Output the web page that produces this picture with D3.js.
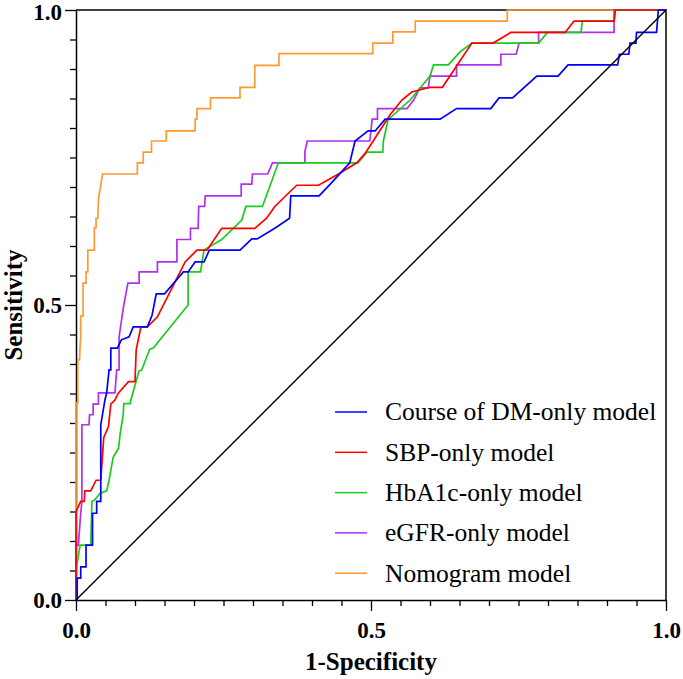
<!DOCTYPE html>
<html>
<head>
<meta charset="utf-8">
<script src="https://cdn.jsdelivr.net/npm/d3@7"></script>
<style>
  body { margin: 0; background: #fff; }
  svg { display: block; font-family: "Liberation Serif", "Times New Roman", serif; }
</style>
</head>
<body>
<div id="chart"></div>
<script>
// ROC points as [1-specificity, sensitivity]
const courseDM = [
  [0, 0], [0.002, 0], [0.002, 0.037], [0.008, 0.037], [0.008, 0.056], [0.017, 0.056],
  [0.017, 0.093], [0.028, 0.093], [0.028, 0.147], [0.035, 0.147], [0.035, 0.167],
  [0.042, 0.167], [0.042, 0.297], [0.049, 0.339], [0.052, 0.351], [0.056, 0.390],
  [0.059, 0.390], [0.059, 0.427], [0.070, 0.427], [0.077, 0.441], [0.090, 0.446],
  [0.097, 0.463], [0.121, 0.463], [0.129, 0.483], [0.136, 0.519], [0.150, 0.519],
  [0.182, 0.556], [0.190, 0.556], [0.202, 0.573], [0.217, 0.573], [0.226, 0.593],
  [0.278, 0.593], [0.298, 0.612], [0.307, 0.612], [0.337, 0.630], [0.362, 0.647],
  [0.364, 0.685], [0.412, 0.685], [0.431, 0.705], [0.464, 0.741], [0.473, 0.778],
  [0.495, 0.795], [0.507, 0.795], [0.524, 0.815], [0.617, 0.815], [0.645, 0.833],
  [0.703, 0.833], [0.717, 0.851], [0.740, 0.851], [0.781, 0.888], [0.817, 0.888],
  [0.834, 0.907], [0.918, 0.907], [0.921, 0.925], [0.937, 0.925], [0.939, 0.944],
  [0.949, 0.944], [0.950, 0.962], [0.984, 0.962], [0.987, 1], [1, 1]
];
const sbp = [
  [0, 0], [0, 0.150], [0.008, 0.167], [0.014, 0.167], [0.015, 0.185], [0.025, 0.185],
  [0.034, 0.203], [0.042, 0.203], [0.047, 0.275], [0.055, 0.294], [0.059, 0.332],
  [0.066, 0.339], [0.072, 0.351], [0.089, 0.370], [0.100, 0.370], [0.102, 0.424],
  [0.110, 0.463], [0.121, 0.463], [0.138, 0.480], [0.171, 0.545], [0.185, 0.573],
  [0.205, 0.593], [0.222, 0.593], [0.247, 0.630], [0.303, 0.630], [0.323, 0.647],
  [0.337, 0.667], [0.374, 0.703], [0.411, 0.703], [0.445, 0.722], [0.476, 0.741],
  [0.490, 0.757], [0.507, 0.783], [0.532, 0.822], [0.552, 0.847], [0.569, 0.861],
  [0.600, 0.869], [0.621, 0.869], [0.671, 0.944], [0.707, 0.944], [0.737, 0.962],
  [0.829, 0.962], [0.844, 0.981], [0.912, 0.981], [0.914, 1], [1, 1]
];
const hba1c = [
  [0, 0], [0.001, 0.056], [0.007, 0.093], [0.025, 0.093], [0.027, 0.167], [0.031, 0.169],
  [0.041, 0.181], [0.052, 0.185], [0.056, 0.203], [0.063, 0.242], [0.072, 0.257],
  [0.075, 0.283], [0.080, 0.314], [0.081, 0.333], [0.092, 0.333], [0.093, 0.339],
  [0.107, 0.389], [0.111, 0.389], [0.125, 0.425], [0.131, 0.427], [0.190, 0.500],
  [0.190, 0.556], [0.211, 0.556], [0.217, 0.593], [0.247, 0.611], [0.281, 0.644],
  [0.288, 0.667], [0.316, 0.667], [0.343, 0.741], [0.478, 0.741], [0.493, 0.759],
  [0.520, 0.759], [0.521, 0.778], [0.529, 0.814], [0.566, 0.847], [0.600, 0.888],
  [0.606, 0.907], [0.631, 0.907], [0.651, 0.929], [0.671, 0.944], [0.784, 0.944],
  [0.799, 0.962], [0.856, 0.962], [0.858, 0.981], [0.912, 0.981], [0.914, 1], [1, 1]
];
const egfr = [
  [0, 0], [0, 0.093], [0.004, 0.093], [0.008, 0.147], [0.010, 0.167], [0.010, 0.297],
  [0.022, 0.297], [0.023, 0.314], [0.029, 0.314], [0.029, 0.332], [0.038, 0.332],
  [0.038, 0.351], [0.066, 0.351], [0.069, 0.390], [0.073, 0.390], [0.073, 0.446],
  [0.081, 0.500], [0.088, 0.537], [0.107, 0.537], [0.107, 0.556], [0.138, 0.556],
  [0.138, 0.573], [0.171, 0.573], [0.171, 0.611], [0.194, 0.611], [0.194, 0.630],
  [0.207, 0.630], [0.208, 0.667], [0.218, 0.667], [0.219, 0.685], [0.280, 0.685],
  [0.280, 0.705], [0.298, 0.705], [0.299, 0.722], [0.325, 0.722], [0.333, 0.741],
  [0.388, 0.741], [0.388, 0.760], [0.392, 0.778], [0.498, 0.778], [0.502, 0.815],
  [0.511, 0.815], [0.511, 0.833], [0.561, 0.833], [0.572, 0.847], [0.583, 0.868],
  [0.597, 0.868], [0.600, 0.888], [0.645, 0.888], [0.645, 0.907], [0.720, 0.907],
  [0.720, 0.925], [0.746, 0.925], [0.751, 0.944], [0.784, 0.944], [0.784, 0.962],
  [0.912, 0.962], [0.912, 1], [1, 1]
];
const nomogram = [
  [0, 0], [0, 0.334], [0.003, 0.334], [0.003, 0.407], [0.006, 0.407], [0.007, 0.432],
  [0.008, 0.446], [0.008, 0.481], [0.012, 0.481], [0.012, 0.537], [0.017, 0.537],
  [0.017, 0.556], [0.020, 0.556], [0.020, 0.593], [0.031, 0.593], [0.031, 0.631],
  [0.034, 0.631], [0.034, 0.647], [0.037, 0.647], [0.038, 0.678], [0.039, 0.686],
  [0.042, 0.703], [0.045, 0.722], [0.104, 0.722], [0.104, 0.741], [0.114, 0.741],
  [0.114, 0.759], [0.128, 0.759], [0.128, 0.778], [0.153, 0.778], [0.153, 0.795],
  [0.202, 0.795], [0.202, 0.815], [0.205, 0.815], [0.205, 0.833], [0.228, 0.833],
  [0.228, 0.851], [0.278, 0.851], [0.278, 0.869], [0.303, 0.869], [0.303, 0.906],
  [0.344, 0.906], [0.344, 0.926], [0.503, 0.926], [0.503, 0.944], [0.537, 0.944],
  [0.537, 0.963], [0.575, 0.963], [0.575, 0.981], [0.731, 0.981], [0.731, 1], [1, 1]
];

const seriesNames = ["Course of DM-only model", "SBP-only model", "HbA1c-only model", "eGFR-only model", "Nomogram model"];
const seriesColors = ["#0000ff", "#ff0000", "#1ccc1c", "#b030ee", "#ff9a30"];
const seriesData = [courseDM, sbp, hba1c, egfr, nomogram];
const tickValues = d3.range(0, 21).map(i => i / 20);
const labelTicks = [0, 0.5, 1];

const width = 683, height = 679;
const margin = { top: 10, right: 17, bottom: 79, left: 76 };

const svg = d3.select("#chart").append("svg")
  .attr("width", width)
  .attr("height", height);

const x = d3.scaleLinear().domain([0, 1]).range([margin.left, width - margin.right]);
const y = d3.scaleLinear().domain([0, 1]).range([height - margin.bottom, margin.top]);

const isMajor = d => labelTicks.some(v => Math.abs(v - d) < 1e-6);
const fmt = d3.format(".1f");

// x axis
const xAxis = svg.append("g")
  .attr("transform", `translate(0,${y(0)})`)
  .call(d3.axisBottom(x).tickValues(tickValues).tickSizeOuter(0)
    .tickFormat(d => isMajor(d) ? fmt(d) : ""));
xAxis.select(".domain").attr("stroke", "#000").attr("stroke-width", 1.5);
xAxis.selectAll(".tick line").attr("y2", d => isMajor(d) ? 11 : 6).attr("stroke-width", 1.3);
xAxis.selectAll(".tick text")
  .attr("y", 22)
  .attr("dy", "0.71em")
  .attr("font-size", 23)
  .attr("font-weight", "bold")
  .attr("font-family", "Liberation Serif, Times New Roman, serif")
  .attr("fill", "#000");

// y axis
const yAxis = svg.append("g")
  .attr("transform", `translate(${x(0)},0)`)
  .call(d3.axisLeft(y).tickValues(tickValues).tickSizeOuter(0)
    .tickFormat(d => isMajor(d) ? fmt(d) : ""));
yAxis.select(".domain").attr("stroke", "#000").attr("stroke-width", 1.5);
yAxis.selectAll(".tick line").attr("x2", d => isMajor(d) ? -11 : -6).attr("stroke-width", 1.3);
yAxis.selectAll(".tick text")
  .attr("x", -14)
  .attr("y", d => d === 1 ? 2 : 0)
  .attr("dy", "0.34em")
  .attr("font-size", 23)
  .attr("font-weight", "bold")
  .attr("font-family", "Liberation Serif, Times New Roman, serif")
  .attr("fill", "#000");

// top and right frame
svg.append("path")
  .attr("d", `M${x(0)},${y(1)}H${x(1)}V${y(0)}`)
  .attr("fill", "none")
  .attr("stroke", "#000")
  .attr("stroke-width", 1.5);

// curves, drawn in reverse so the first series sits on top
const line = d3.line().x(d => x(d[0])).y(d => y(d[1]));
svg.append("g")
  .selectAll("path")
  .data(d3.range(seriesData.length).reverse())
  .join("path")
  .attr("d", i => line(seriesData[i]))
  .attr("fill", "none")
  .attr("stroke", i => seriesColors[i])
  .attr("stroke-width", 1.7)
  .attr("stroke-linejoin", "miter");

// reference diagonal
svg.append("line")
  .attr("x1", x(0)).attr("y1", y(0))
  .attr("x2", x(1)).attr("y2", y(1))
  .attr("stroke", "#000")
  .attr("stroke-width", 1.4);

// axis titles
svg.append("text")
  .attr("x", (x(0) + x(1)) / 2)
  .attr("y", 670)
  .attr("text-anchor", "middle")
  .attr("font-size", 25)
  .attr("font-weight", "bold")
  .text("1-Specificity");

svg.append("text")
  .attr("transform", `translate(22,${(y(0) + y(1)) / 2}) rotate(-90)`)
  .attr("text-anchor", "middle")
  .attr("font-size", 25)
  .attr("font-weight", "bold")
  .text("Sensitivity");

// legend
const legend = svg.append("g").attr("transform", `translate(335,412)`);
const rows = legend.selectAll("g")
  .data(seriesNames)
  .join("g")
  .attr("transform", (d, i) => `translate(0,${i * 40.3})`);
rows.append("line")
  .attr("x1", 0).attr("x2", 32)
  .attr("stroke", (d, i) => seriesColors[i])
  .attr("stroke-width", 1.5);
rows.append("text")
  .attr("x", 50)
  .attr("dy", "0.33em")
  .attr("font-size", 25.5)
  .text(d => d);
</script>
</body>
</html>
